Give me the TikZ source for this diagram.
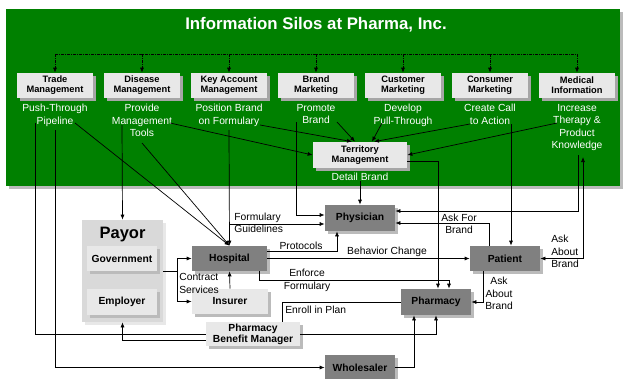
\documentclass[tikz,border=0pt]{standalone}
\usepackage{fontspec}
\setmainfont{Liberation Sans}
\usetikzlibrary{arrows.meta,calc,shadows}
\definecolor{silogreen}{HTML}{008000}
\definecolor{boxlight}{HTML}{E8E8E8}
\definecolor{boxdark}{HTML}{808080}
\definecolor{payorgray}{HTML}{D9D9D9}
\definecolor{shadegray}{HTML}{A6A6A6}
\definecolor{shadelight}{HTML}{BBBBBB}

\tikzset{
  silo/.style={fill=boxlight, minimum width=76pt, minimum height=25pt, inner sep=0pt, align=center,
    font=\fontsize{9.3}{10}\selectfont\bfseries,
    drop shadow={shadow xshift=3pt, shadow yshift=-3pt, fill=shadegray, opacity=1}},
  party/.style={fill=boxlight, minimum width=70pt, minimum height=25pt, inner sep=0pt, align=center,
    font=\fontsize{10.3}{11}\selectfont\bfseries,
    drop shadow={shadow xshift=3pt, shadow yshift=-3pt, fill=shadelight, opacity=1}},
  actor/.style={party, fill=boxdark},
  goal/.style={text=white, align=center, inner sep=0pt, anchor=north, font=\fontsize{10.3}{12.4}\selectfont},
  note/.style={inner sep=0pt, font=\fontsize{10.3}{12.4}\selectfont},
  link/.style={-{Latex[length=5pt,width=4pt]}},
  bus/.style={dash pattern=on 3pt off 1pt on 1pt off 1pt}
}

\begin{document}
\begin{tikzpicture}[x=1pt, y=-1pt, line width=0.7pt]
    \useasboundingbox (0,0) rectangle (624,378);
    % green band with the silos
    \fill[silogreen, drop shadow={shadow xshift=3pt, shadow yshift=-3pt, fill=shadelight, opacity=1}] (6,9) rectangle (620,186);
    \node[text=white, font=\fontsize{16.8}{18}\selectfont\bfseries] (title) at (316,25) {Information Silos at Pharma, Inc.};

    \node[silo] (trade) at (55,85.5) {Trade\\Management};
    \node[silo] (disease) at (142,85.5) {Disease\\Management};
    \node[silo] (keyacc) at (229,85.5) {Key Account\\Management};
    \node[silo] (brand) at (316,85.5) {Brand\\Marketing};
    \node[silo] (customer) at (403,85.5) {Customer\\Marketing};
    \node[silo] (consumer) at (490,85.5) {Consumer\\Marketing};
    \node[silo] (medical) at (577,85.5) {Medical\\Information};

    \coordinate (busline) at (0,54);
    \draw[bus] (trade.north |- busline) -- (medical.north |- busline);
    \foreach \s in {trade,disease,keyacc,brand,customer,consumer,medical}
        \draw[bus, link] (\s.north |- busline) -- (\s.north);

    \node[goal] (tradeL) at (55,104) {Push-Through\\Pipeline};
    \node[goal] (diseaseL) at (142,104) {Provide\\Management\\Tools};
    \node[goal] (keyaccL) at (229,104) {Position Brand\\on Formulary};
    \node[goal] (brandL) at (316,104) {Promote\\Brand};
    \node[goal] (customerL) at (403,104) {Develop\\Pull-Through};
    \node[goal] (consumerL) at (490,104) {Create Call\\to Action};
    \node[goal] (medicalL) at (577,104) {Increase\\Therapy \&\\Product\\Knowledge};

    \node[silo, minimum width=94pt, minimum height=26pt] (terr) at (360,155) {Territory\\Management};
    \node[goal, anchor=center] (detail) at (360,177) {Detail Brand};

    % the market
    \node[fill=payorgray, minimum width=81pt, minimum height=102pt, inner sep=0pt,
        drop shadow={shadow xshift=3pt, shadow yshift=-3pt, fill=boxlight, opacity=1}] (payor) at (122.5,271) {};
    \node[font=\fontsize{16.5}{18}\selectfont\bfseries] (payorT) at (122.5,235) {Payor};
    \node[party] (gov) at (122,258.5) {Government};
    \node[party, minimum height=26pt] (emp) at (122,302) {Employer};

    \node[actor, minimum width=70pt, minimum height=26pt] (phys) at (360,218) {Physician};
    \node[actor, minimum width=75pt] (hosp) at (229.5,258.5) {Hospital};
    \node[party, minimum width=76pt] (ins) at (230,301.5) {Insurer};
    \node[party, minimum width=94pt, minimum height=24pt] (pbm) at (253,334) {Pharmacy\\Benefit Manager};
    \node[actor, minimum height=26pt] (pharm) at (436,302) {Pharmacy};
    \node[actor] (pat) at (505,258.5) {Patient};
    \node[actor] (whole) at (360,367.5) {Wholesaler};

    % where the lines leave the silo texts
    \coordinate (tradeA) at (35,123); \coordinate (tradeB) at (55,130); \coordinate (tradeC) at (75,123);
    \coordinate (diseaseA) at (122,125); \coordinate (diseaseB) at (170,123); \coordinate (diseaseC) at (142,143);
    \coordinate (keyaccA) at (229,130); \coordinate (keyaccB) at (260,125);
    \coordinate (brandA) at (296,122); \coordinate (brandB) at (337,122);
    \coordinate (customerA) at (382,123);
    \coordinate (consumerA) at (470,124); \coordinate (consumerB) at (511,124);
    \coordinate (medicalA) at (557,123); \coordinate (medicalB) at (578,155); \coordinate (medicalC) at (583,157);

    % into territory management
    \draw[link] (diseaseB) -- (terr.west);
    \draw[link] (keyaccB) -- ($(terr.north)+(-8,0)$);
    \draw[link] (brandB) -- ($(terr.north)+(-5,0)$);
    \draw[link] (customerA) -- ($(terr.north)+(12,0)$);
    \draw[link] (consumerA) -- ($(terr.north)+(14,0)$);
    \draw[link] (medicalA) -- (terr.east);
    \draw[link] ($(terr.east)+(0,6)$) -| ($(pharm.north)+(2,0)$);
    \draw[link] (detail.south) -- (phys.north);

    % trade and disease
    \draw (tradeA) |- (pbm.west);
    \draw[link] (pbm.east) -| (pharm.south);
    \draw[link] (tradeB) |- (whole.west);
    \draw[link] (tradeC) -- (hosp.north);
    \draw[link] (diseaseA) -- (payor.north);
    \draw[link] (diseaseC) -- (hosp.north);

    % key account and brand
    \draw[link] (keyaccA) -- (hosp.north);
    \draw[link] (keyaccA |- 0,224) -- ($(phys.west)+(0,6)$);
    \draw[link] (brandA) |- ($(phys.west)+(0,-3)$);
    \node[note, align=left, anchor=west] (formT) at (234,223) {Formulary\\Guidelines};

    % hospital
    \draw[link] ($(hosp.east)+(0,-7)$) -| ($(phys.south)+(-23,0)$);
    \node[note] (protT) at (301,246) {Protocols};
    \draw[link] (hosp.east) -- (pat.west);
    \node[note] (behavT) at (387,252) {Behavior Change};
    \draw[link] ($(hosp.south east)+(-8,0)$) -- ++(0,9) -| ($(pharm.north)+(13,0)$);
    \node[note, align=center] (enfT) at (307,280.5) {Enforce\\Formulary};
    \draw[link] (ins.north) -- (hosp.south);

    % payor side
    \draw (payor.east) -- ++(14,0) coordinate (split);
    \draw[link] (split) |- (hosp.west);
    \draw[link] (split) |- (ins.west);
    \node[note, align=left, anchor=west] (contT) at (179,283.5) {Contract\\Services};
    \draw[link] ($(pbm.west)+(0,6)$) -| (payor.south);
    \draw (pharm.west) -| ($(pbm.north)+(29,0)$);
    \node[note, anchor=west] (enrT) at (285,309.5) {Enroll in Plan};

    % patient
    \draw[link] (consumerB) -- ($(pat.north)+(6,0)$);
    \draw[link] ($(pat.north)+(-16,0)$) |- ($(phys.east)+(0,5)$);
    \node[note, align=center] (askT) at (459,224) {Ask For\\Brand};
    \draw[link] (medicalB) |- ($(phys.east)+(0,-7)$);
    \draw[{Latex[length=5pt,width=4pt]}-{Latex[length=5pt,width=4pt]}] (pat.east) -| (medicalC);
    \node[note, align=left, anchor=west] (aboutT) at (551,251.5) {Ask\\About\\Brand};
    \draw[link] ($(pat.south)+(-22,0)$) |- (pharm.east);
    \node[note, align=center] (about2T) at (499,293.5) {Ask\\About\\Brand};
    \draw[link] (whole.east) -| ($(pharm.south)+(-22,0)$);
\end{tikzpicture}
\end{document}
